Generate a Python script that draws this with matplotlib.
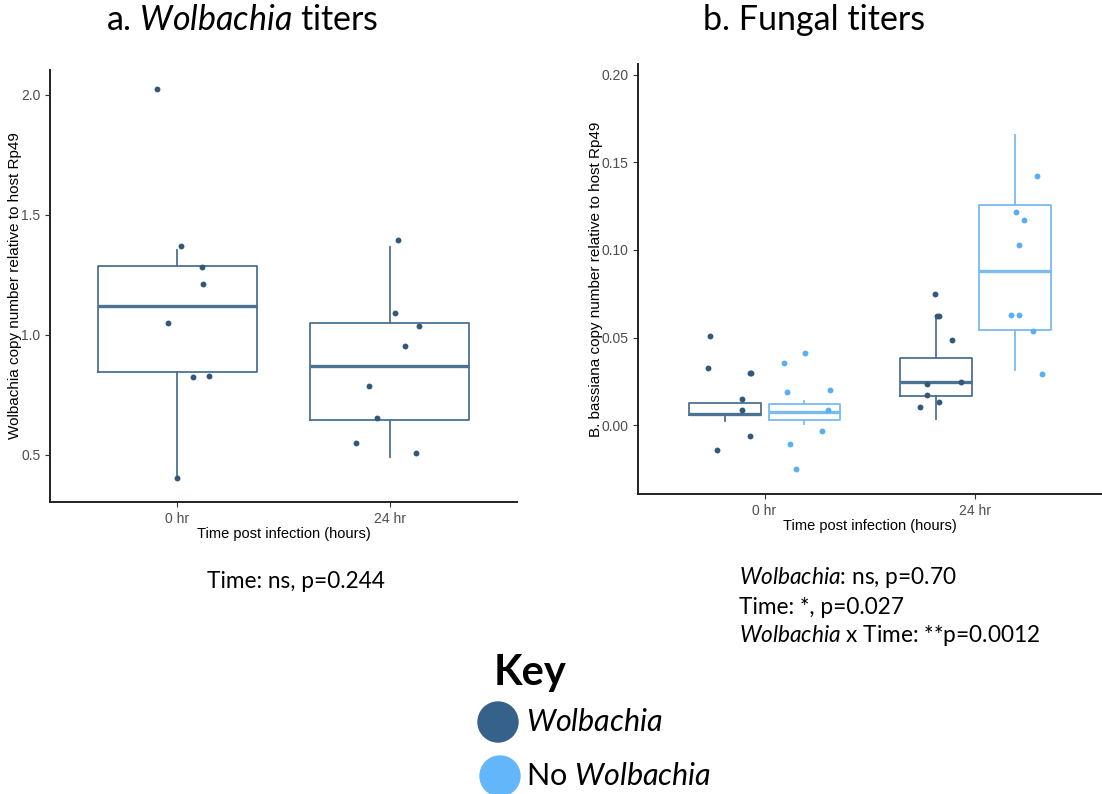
import numpy as np
import matplotlib
matplotlib.use("Agg")
import matplotlib.pyplot as plt
from matplotlib.patches import Ellipse

plt.rcParams['font.family'] = ['Liberation Sans', 'DejaVu Sans']
plt.rcParams['mathtext.fontset'] = 'custom'
plt.rcParams['mathtext.rm'] = 'Lato'
plt.rcParams['mathtext.it'] = 'Lato:italic'
plt.rcParams['mathtext.bf'] = 'Lato:bold'

dark = "#34587a"
dark_line = "#4d7193"
light = "#5aaef2"
light_line = "#7abbf0"

groups = ["0 hr", "24 hr"]

# a. Wolbachia titers: box stats (q1, median, q3, whisker low, whisker high)
wol_q1 = [0.846, 0.647]
wol_med = [1.119, 0.871]
wol_q3 = [1.2875, 1.051]
wol_lo = [0.413, 0.493]
wol_hi = [1.353, 1.367]
# jittered points (value, horizontal offset from group)
wol_pts = [
    [2.026, 1.371, 1.283, 1.2125, 1.051, 0.826, 0.831, 0.406],
    [1.396, 1.090, 1.036, 0.956, 0.786, 0.654, 0.550, 0.507],
]
wol_dx = [
    [-0.094, 0.016, 0.118, 0.121, -0.046, 0.074, 0.149, -0.003],
    [0.038, 0.025, 0.138, 0.072, -0.099, -0.060, -0.157, 0.126],
]

# b. Fungal titers, Wolbachia (w) and No Wolbachia (n)
fw_q1 = [0.0057, 0.0165]
fw_med = [0.0065, 0.0245]
fw_q3 = [0.0127, 0.0387]
fw_lo = [0.0023, 0.0036]
fw_hi = [0.0127, 0.0621]
fn_q1 = [0.0030, 0.0543]
fn_med = [0.0078, 0.0881]
fn_q3 = [0.0120, 0.1255]
fn_lo = [0.0009, 0.0317]
fn_hi = [0.0137, 0.1654]

fw_pts = [
    [0.0509, 0.0325, 0.0298, 0.0298, 0.0152, 0.0085, -0.0059, -0.0142],
    [0.0748, 0.0625, 0.0625, 0.0486, 0.0247, 0.0236, 0.0173, 0.0133, 0.0106],
]
fw_dx = [
    [-0.257, -0.268, -0.071, -0.066, -0.106, -0.106, -0.068, -0.224],
    [-0.191, -0.180, -0.175, -0.109, -0.068, -0.230, -0.232, -0.175, -0.263],
]
fn_pts = [
    [0.0410, 0.0355, 0.0190, 0.0201, 0.0087, -0.0034, -0.0104, -0.0247],
    [0.1423, 0.1219, 0.1170, 0.1031, 0.0631, 0.0631, 0.0536, 0.0291],
]
fn_dx = [
    [0.191, 0.092, 0.106, 0.308, 0.300, 0.271, 0.121, 0.150],
    [0.293, 0.192, 0.230, 0.206, 0.167, 0.205, 0.274, 0.314],
]


def make_stats(q1, med, q3, lo, hi):
    return [dict(q1=a, med=b, q3=c, whislo=d, whishi=e, fliers=[])
            for a, b, c, d, e in zip(q1, med, q3, lo, hi)]


def draw_boxes(ax, stats, pos, width, col):
    ax.bxp(stats, positions=pos, widths=width, showcaps=False,
           showfliers=False, patch_artist=False,
           boxprops=dict(color=col, linewidth=1.3),
           whiskerprops=dict(color=col, linewidth=1.3),
           medianprops=dict(color=col, linewidth=2.4))


def style_axes(ax, ylabel):
    ax.spines['top'].set_visible(False)
    ax.spines['right'].set_visible(False)
    for s in ('left', 'bottom'):
        ax.spines[s].set_linewidth(1.4)
        ax.spines[s].set_color('#222222')
    ax.tick_params(length=3.5, width=0.8, colors='#333333', labelsize=10,
                   labelcolor='#4d4d4d')
    ax.set_xticks([1, 2])
    ax.set_xticklabels(groups)
    ax.set_xlim(0.4, 2.6)
    ax.set_xlabel("Time post infection (hours)", fontsize=10.5, labelpad=1)
    ax.set_ylabel(ylabel, fontsize=11, labelpad=-1)


fig = plt.figure(figsize=(11.02, 7.94), dpi=100)

# panel a
ax1 = fig.add_axes([50 / 1102, 1 - 502 / 794, 467 / 1102, 432 / 794])
x = np.arange(1, 3)
draw_boxes(ax1, make_stats(wol_q1, wol_med, wol_q3, wol_lo, wol_hi), x, 0.75, dark_line)
for i in range(2):
    ax1.scatter(x[i] + np.array(wol_dx[i]), wol_pts[i], s=18, color=dark,
                zorder=3, linewidths=0)
ax1.set_ylim(0.304, 2.104)
ax1.set_yticks([0.5, 1.0, 1.5, 2.0])
ax1.set_yticklabels(["0.5", "1.0", "1.5", "2.0"])
style_axes(ax1, "Wolbachia copy number relative to host Rp49")

# panel b
ax2 = fig.add_axes([638 / 1102, 1 - 494 / 794, 464 / 1102, 430 / 794])
off = 0.1875
draw_boxes(ax2, make_stats(fw_q1, fw_med, fw_q3, fw_lo, fw_hi), x - off, 0.3375, dark_line)
draw_boxes(ax2, make_stats(fn_q1, fn_med, fn_q3, fn_lo, fn_hi), x + off, 0.3375, light_line)
for i in range(2):
    ax2.scatter(x[i] + np.array(fw_dx[i]), fw_pts[i], s=18, color=dark,
                zorder=3, linewidths=0)
    ax2.scatter(x[i] + np.array(fn_dx[i]), fn_pts[i], s=18, color=light,
                zorder=3, linewidths=0)
ax2.set_ylim(-0.0391, 0.206)
ax2.set_yticks([0.0, 0.05, 0.10, 0.15, 0.20])
ax2.set_yticklabels(["0.00", "0.05", "0.10", "0.15", "0.20"])
style_axes(ax2, "B. bassiana copy number relative to host Rp49")

# titles and statistics
cal = dict(family=['Lato', 'DejaVu Sans'])
fig.text(242 / 1102, 1 - 20 / 794, r"a. $\mathit{Wolbachia}$ titers", fontsize=24.5,
         ha='center', va='center', **cal)
fig.text(814 / 1102, 1 - 20 / 794, "b. Fungal titers", fontsize=24.5,
         ha='center', va='center', **cal)
fig.text(296 / 1102, 1 - 582 / 794, "Time: ns, p=0.244", fontsize=16.3,
         ha='center', va='center', **cal)
fig.text(739 / 1102, 1 - 578 / 794, r"$\mathit{Wolbachia}$: ns, p=0.70", fontsize=16.3,
         ha='left', va='center', **cal)
fig.text(739 / 1102, 1 - 607 / 794, "Time: *, p=0.027", fontsize=16.3,
         ha='left', va='center', **cal)
fig.text(739 / 1102, 1 - 636 / 794, r"$\mathit{Wolbachia}$ x Time: **p=0.0012", fontsize=16.3,
         ha='left', va='center', **cal)

# key
fig.text(494 / 1102, 1 - 673 / 794, "Key", fontsize=30, fontweight='bold',
         ha='left', va='center', **cal)
fig.patches.append(Ellipse((498 / 1102, 1 - 722 / 794), 40 / 1102, 40 / 794,
                           transform=fig.transFigure, color="#35618a"))
fig.patches.append(Ellipse((500 / 1102, 1 - 776 / 794), 40 / 1102, 40 / 794,
                           transform=fig.transFigure, color="#62b6f9"))
fig.text(526 / 1102, 1 - 722 / 794, r"$\mathit{Wolbachia}$", fontsize=22,
         ha='left', va='center', **cal)
fig.text(526 / 1102, 1 - 776 / 794, r"No $\mathit{Wolbachia}$", fontsize=22,
         ha='left', va='center', **cal)

fig.savefig("out.png", dpi=100)
